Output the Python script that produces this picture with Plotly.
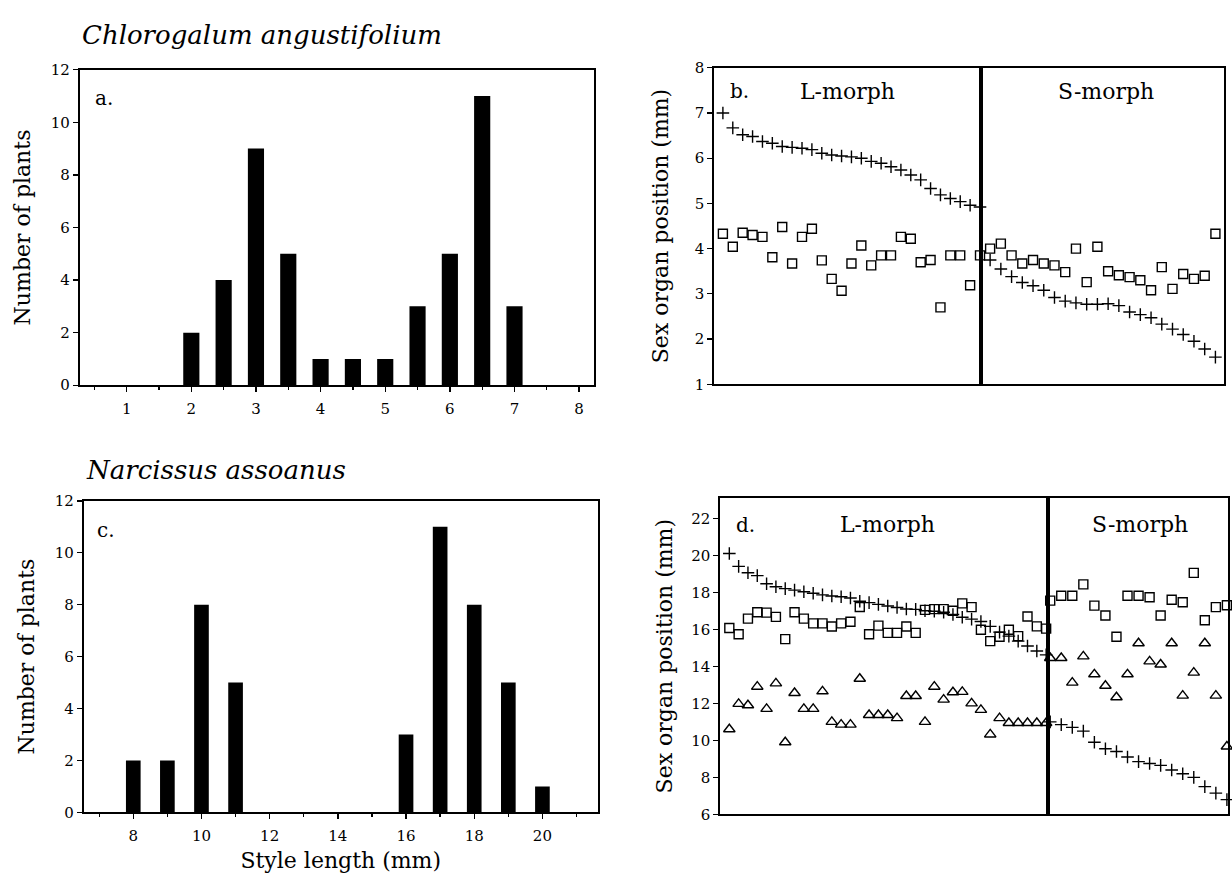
import plotly.graph_objects as go

W, H = 1232, 891
SERIF = "DejaVu Serif"

# ---------------- data ----------------
# Panel a: Chlorogalum angustifolium, style-length histogram
a_style_mm = [1, 1.5, 2, 2.5, 3, 3.5, 4, 4.5, 5, 5.5, 6, 6.5, 7, 7.5]
a_plants = [0, 0, 2, 4, 9, 5, 1, 1, 1, 3, 5, 11, 3, 0]
a_xticks = [1, 2, 3, 4, 5, 6, 7, 8]

# Panel c: Narcissus assoanus, style-length histogram
c_style_mm = [8, 9, 10, 11, 12, 13, 14, 15, 16, 17, 18, 19, 20]
c_plants = [2, 2, 8, 5, 0, 0, 0, 0, 3, 11, 8, 5, 1]
c_xticks = [8, 10, 12, 14, 16, 18, 20]

# Panel b: Chlorogalum sex-organ positions (mm), plants ranked within each morph
b_L_stigma = [7.0, 6.67, 6.52, 6.48, 6.37, 6.33, 6.26, 6.24, 6.22, 6.19, 6.11, 6.07,
              6.05, 6.03, 6.0, 5.93, 5.89, 5.81, 5.74, 5.63, 5.52, 5.33, 5.19, 5.11,
              5.04, 4.96, 4.92]
b_L_anther = [4.33, 4.04, 4.35, 4.30, 4.26, 3.81, 4.48, 3.67, 4.26, 4.44, 3.74, 3.33,
              3.07, 3.67, 4.07, 3.63, 3.85, 3.85, 4.26, 4.22, 3.70, 3.75, 2.70, 3.85,
              3.85, 3.19, 3.85]
b_S_stigma = [3.75, 3.55, 3.38, 3.25, 3.18, 3.08, 2.92, 2.84, 2.80, 2.77, 2.77, 2.78,
              2.74, 2.60, 2.54, 2.47, 2.33, 2.22, 2.10, 1.95, 1.78, 1.60]
b_S_anther = [4.00, 4.11, 3.85, 3.67, 3.75, 3.67, 3.63, 3.48, 4.00, 3.26, 4.04, 3.50,
              3.41, 3.37, 3.30, 3.08, 3.59, 3.11, 3.44, 3.33, 3.40, 4.33]

# Panel d: Narcissus sex-organ positions (mm)
d_L_stigma = [20.1, 19.4, 19.06, 18.9, 18.46, 18.3, 18.2, 18.12, 18.03, 17.95, 17.86,
              17.8, 17.76, 17.69, 17.52, 17.44, 17.35, 17.26, 17.18, 17.1, 17.08, 17.0,
              16.98, 16.92, 16.8, 16.65, 16.55, 16.42, 16.16, 15.85, 15.63, 15.36, 15.1,
              14.83, 14.62]
d_L_upper = [16.07, 15.73, 16.58, 16.92, 16.9, 16.67, 15.47, 16.92, 16.58, 16.32, 16.32,
             16.15, 16.32, 16.41, 17.21, 15.73, 16.2, 15.81, 15.81, 16.15, 15.81, 17.05,
             17.09, 17.09, 17.0, 17.4, 17.2, 15.98, 15.36, 15.6, 15.98, 15.63, 16.69,
             16.16, 16.04]
d_L_lower = [10.6, 11.97, 11.9, 12.9, 11.7, 13.08, 9.9, 12.56, 11.7, 11.7, 12.65, 11.0,
             10.85, 10.85, 13.33, 11.37, 11.37, 11.37, 11.2, 12.4, 12.4, 11.0, 12.9, 12.2,
             12.6, 12.62, 12.0, 11.65, 10.32, 11.2, 10.94, 10.94, 10.94, 10.94, 10.94]
d_S_stigma = [11.0, 10.85, 10.7, 10.5, 9.9, 9.55, 9.4, 9.1, 8.85, 8.75, 8.65, 8.4, 8.2,
              8.0, 7.5, 7.15, 6.8]
d_S_upper = [17.55, 17.81, 17.81, 18.43, 17.28, 16.75, 15.6, 17.81, 17.81, 17.73, 16.75,
             17.6, 17.46, 19.05, 16.49, 17.2, 17.3]
d_S_lower = [14.45, 14.45, 13.12, 14.54, 13.57, 12.95, 12.33, 13.57, 15.25, 14.27, 14.1,
             15.25, 12.42, 13.66, 15.25, 12.42, 9.67]


# ---------------- helpers ----------------
def px_x(a, b):
    return [a / W, b / W]


def px_y(top, bottom):
    return [1 - bottom / H, 1 - top / H]


def idx(v):
    return list(range(1, len(v) + 1))


def scatter(vals, symbol, xa, ya, size):
    return go.Scatter(x=idx(vals), y=vals, mode="markers", xaxis=xa, yaxis=ya,
                      showlegend=False, cliponaxis=False,
                      marker=dict(symbol=symbol, size=size, color="black",
                                  line=dict(color="black", width=1.4)))


fig = go.Figure()

# histograms
fig.add_trace(go.Bar(x=a_style_mm, y=a_plants, width=0.25, marker_color="black",
                     marker_line_width=0, xaxis="x", yaxis="y", showlegend=False))
fig.add_trace(go.Bar(x=c_style_mm, y=c_plants, width=0.43, marker_color="black",
                     marker_line_width=0, xaxis="x4", yaxis="y4", showlegend=False))

# panel b
fig.add_trace(scatter(b_L_stigma, "cross-thin", "x2", "y2", 9))
fig.add_trace(scatter(b_L_anther, "square-open", "x2", "y2", 9))
fig.add_trace(scatter(b_S_stigma, "cross-thin", "x3", "y3", 9))
fig.add_trace(scatter(b_S_anther, "square-open", "x3", "y3", 9))
# panel d
fig.add_trace(scatter(d_L_stigma, "cross-thin", "x5", "y5", 9))
fig.add_trace(scatter(d_L_upper, "square-open", "x5", "y5", 9))
fig.add_trace(scatter(d_L_lower, "triangle-up-open", "x5", "y5", 10))
fig.add_trace(scatter(d_S_stigma, "cross-thin", "x6", "y6", 9))
fig.add_trace(scatter(d_S_upper, "square-open", "x6", "y6", 9))
fig.add_trace(scatter(d_S_lower, "triangle-up-open", "x6", "y6", 10))

tickfont = dict(family=SERIF, size=15, color="black")
titlefont = dict(family=SERIF, size=22, color="black")
axis_common = dict(showline=True, linecolor="black", linewidth=1.6, mirror=True,
                   showgrid=False, zeroline=False, tickfont=tickfont,
                   tickcolor="black", ticklen=5, tickwidth=1.3)

# plot-area boxes in pixels
A_X, A_Y = px_x(79.5, 594), px_y(62, 384)
C_X, C_Y = px_x(83.5, 598), px_y(502, 820)
BL_X, BS_X, B_Y = px_x(714, 981), px_x(981, 1224), px_y(60, 383)
DL_X, DS_X, D_Y = px_x(720, 1048), px_x(1048, 1228), px_y(499, 822)

minor_a = dict(dtick=0.5, ticks="outside", ticklen=3, tickcolor="black")
minor_c = dict(dtick=1, ticks="outside", ticklen=3, tickcolor="black")

fig.update_layout(
    width=W, height=H, autosize=False,
    margin=dict(l=0, r=0, t=0, b=0),
    paper_bgcolor="white", plot_bgcolor="white",
    font=dict(family=SERIF, color="black"),
    xaxis=dict(domain=A_X, anchor="y", range=[0.27, 8.23], tickvals=a_xticks,
               ticks="outside", minor=minor_a, ticklabelstandoff=4, **axis_common),
    yaxis=dict(domain=A_Y, anchor="x", range=[0, 12], dtick=2, ticks="outside",
               title=dict(text="Number of plants", font=titlefont, standoff=14),
               **axis_common),
    xaxis4=dict(domain=C_X, anchor="y4", range=[6.54, 21.63], tickvals=c_xticks,
                ticks="outside", minor=minor_c, ticklabelstandoff=4,
                title=dict(text="Style length (mm)", font=titlefont, standoff=8),
                **axis_common),
    yaxis4=dict(domain=C_Y, anchor="x4", range=[0, 12], dtick=2, ticks="outside",
                title=dict(text="Number of plants", font=titlefont, standoff=14),
                **axis_common),
    xaxis2=dict(domain=BL_X, anchor="y2", range=[0.1, len(b_L_stigma) + 0.1],
                showticklabels=False, ticks="", **axis_common),
    yaxis2=dict(domain=B_Y, anchor="x2", range=[1, 8], dtick=1, ticks="outside",
                title=dict(text="Sex organ position (mm)", font=titlefont, standoff=20),
                **axis_common),
    xaxis3=dict(domain=BS_X, anchor="y3", range=[0.15, len(b_S_stigma) + 0.8],
                showticklabels=False, ticks="", **axis_common),
    yaxis3=dict(domain=B_Y, anchor="x3", range=[1, 8], ticks="",
                showticklabels=False, **axis_common),
    xaxis5=dict(domain=DL_X, anchor="y5", range=[0.0, len(d_L_stigma) + 0.2],
                showticklabels=False, ticks="", **axis_common),
    yaxis5=dict(domain=D_Y, anchor="x5", range=[6, 23.1], tickvals=list(range(6, 23, 2)),
                ticks="outside",
                title=dict(text="Sex organ position (mm)", font=titlefont, standoff=12),
                **axis_common),
    xaxis6=dict(domain=DS_X, anchor="y6", range=[0.8, len(d_S_stigma) + 0.1],
                showticklabels=False, ticks="", **axis_common),
    yaxis6=dict(domain=D_Y, anchor="x6", range=[6, 23.1], ticks="",
                showticklabels=False, **axis_common),
)

letter_font = dict(family=SERIF, size=20, color="black")
morph_font = dict(family=SERIF, size=22, color="black")
title_font = dict(family=SERIF, size=26, color="black")


def note(text, xref, yref, x, y, font, xanchor="left"):
    return dict(text=text, xref=xref, yref=yref, x=x, y=y, xanchor=xanchor,
                yanchor="middle", showarrow=False, font=font)


anns = [
    note("<i>Chlorogalum angustifolium</i>", "paper", "paper", 79.5 / W, 1 - 27 / H, title_font),
    note("<i>Narcissus assoanus</i>", "paper", "paper", 83.5 / W, 1 - 470 / H, title_font),
    note("a.", "x domain", "y domain", 0.026, 0.91, letter_font),
    note("c.", "x4 domain", "y4 domain", 0.022, 0.906, letter_font),
    note("b.", "x2 domain", "y2 domain", 0.052, 0.926, letter_font),
    note("L-morph", "x2 domain", "y2 domain", 0.50, 0.925, morph_font, "center"),
    note("S-morph", "x3 domain", "y3 domain", 0.514, 0.925, morph_font, "center"),
    note("d.", "x5 domain", "y5 domain", 0.043, 0.916, letter_font),
    note("L-morph", "x5 domain", "y5 domain", 0.512, 0.916, morph_font, "center"),
    note("S-morph", "x6 domain", "y6 domain", 0.51, 0.916, morph_font, "center"),
]
fig.update_layout(annotations=anns)

# remove the default page margin so the 1232x891 figure fills the window exactly
fig.write_html("out.html",
               config={"displayModeBar": False, "staticPlot": True},
               post_script="document.body.style.margin='0';"
                           "document.body.style.overflow='hidden';")
